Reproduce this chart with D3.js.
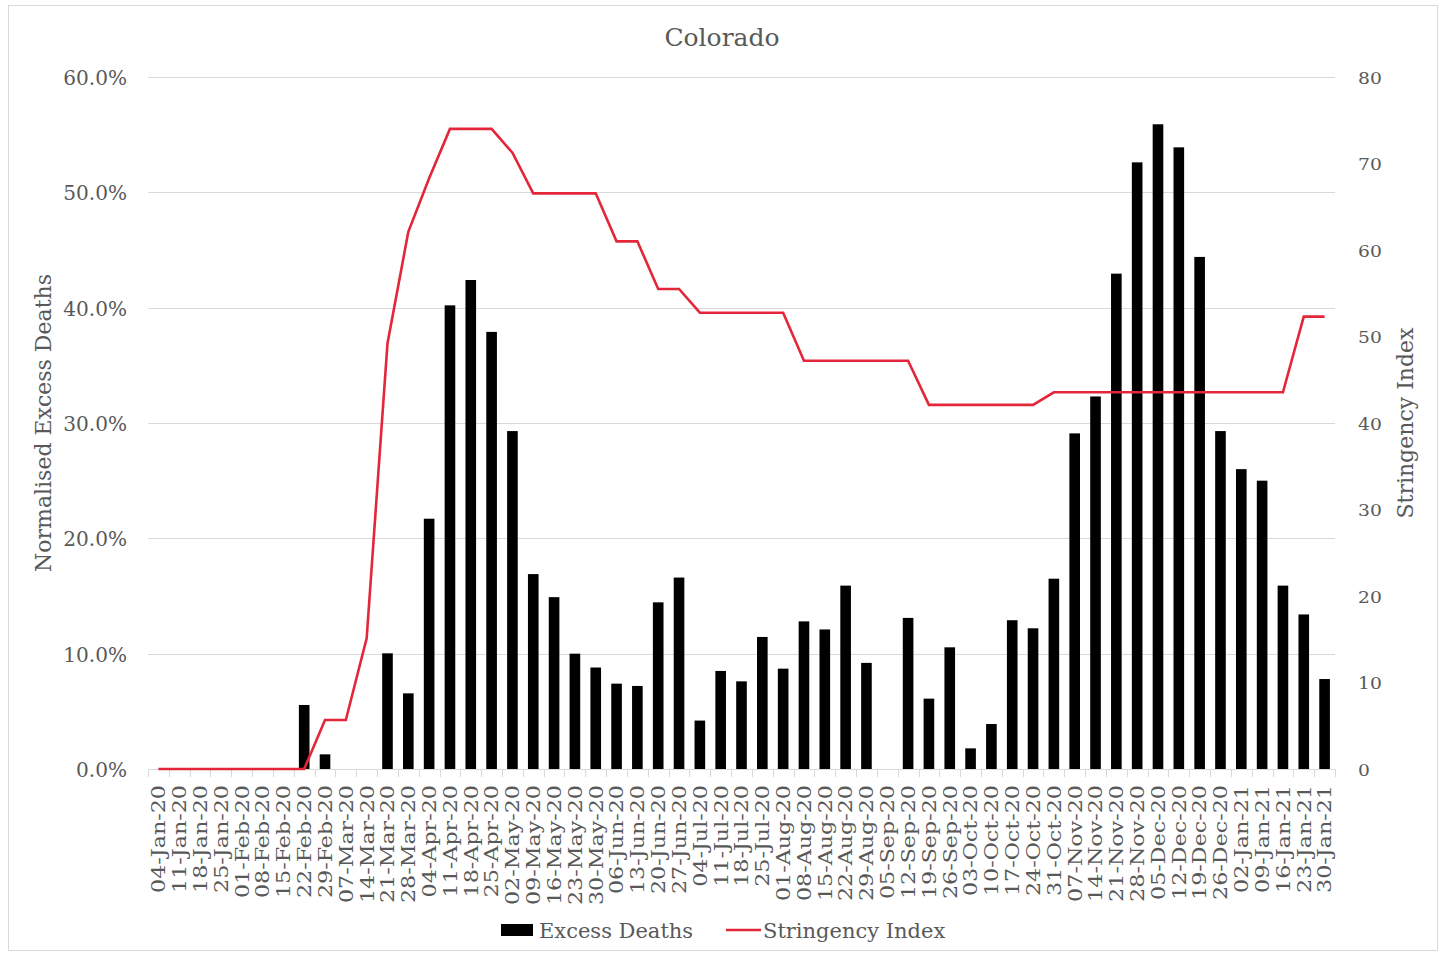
<!DOCTYPE html>
<html>
<head>
<meta charset="utf-8">
<script src="https://cdn.jsdelivr.net/npm/d3@7"></script>
<style>
  html, body { margin: 0; padding: 0; background: #ffffff; }
  svg { display: block; }
  text { font-family: "DejaVu Serif", serif; fill: #595959; }
</style>
</head>
<body>
<svg id="chart" width="1448" height="954"></svg>
<script>
const categories = ["04-Jan-20","11-Jan-20","18-Jan-20","25-Jan-20","01-Feb-20","08-Feb-20","15-Feb-20","22-Feb-20","29-Feb-20","07-Mar-20","14-Mar-20","21-Mar-20","28-Mar-20","04-Apr-20","11-Apr-20","18-Apr-20","25-Apr-20","02-May-20","09-May-20","16-May-20","23-May-20","30-May-20","06-Jun-20","13-Jun-20","20-Jun-20","27-Jun-20","04-Jul-20","11-Jul-20","18-Jul-20","25-Jul-20","01-Aug-20","08-Aug-20","15-Aug-20","22-Aug-20","29-Aug-20","05-Sep-20","12-Sep-20","19-Sep-20","26-Sep-20","03-Oct-20","10-Oct-20","17-Oct-20","24-Oct-20","31-Oct-20","07-Nov-20","14-Nov-20","21-Nov-20","28-Nov-20","05-Dec-20","12-Dec-20","19-Dec-20","26-Dec-20","02-Jan-21","09-Jan-21","16-Jan-21","23-Jan-21","30-Jan-21"];

// Normalised excess deaths (%)
const excessDeaths = [0,0,0,0,0,0,0,5.55,1.27,0,0,10.03,6.56,21.7,40.2,42.4,37.9,29.3,16.9,14.9,10.0,8.8,7.4,7.2,14.45,16.6,4.2,8.5,7.6,11.45,8.7,12.8,12.1,15.9,9.2,0,13.1,6.1,10.55,1.79,3.9,12.9,12.2,16.5,29.1,32.3,42.95,52.6,55.9,53.9,44.4,29.3,26.0,25.0,15.9,13.4,7.8];

// Stringency index
const stringency = [0,0,0,0,0,0,0,0,5.66,5.66,15.1,49.2,62.1,68.3,74.0,74.0,74.0,71.25,66.55,66.55,66.55,66.55,61.0,61.0,55.5,55.5,52.75,52.75,52.75,52.75,52.75,47.2,47.2,47.2,47.2,47.2,47.2,42.1,42.1,42.1,42.1,42.1,42.1,43.55,43.55,43.55,43.55,43.55,43.55,43.55,43.55,43.55,43.55,43.55,43.55,52.3,52.3];

const leftTicks = [0,10,20,30,40,50,60];
const rightTicks = [0,10,20,30,40,50,60,70,80];

const chartTitle = "Colorado";
const leftTitle = "Normalised Excess Deaths";
const rightTitle = "Stringency Index";
const seriesNames = ["Excess Deaths", "Stringency Index"];

const svg = d3.select("#chart");
const plotLeft = 148, plotRight = 1335, plotTop = 77, plotBottom = 769;
const red = "#e3263a";
const grid = "#d9d9d9";

// frame
svg.append("rect").attr("x", 8.5).attr("y", 5.5).attr("width", 1429).attr("height", 945)
  .attr("fill", "none").attr("stroke", "#d9d9d9").attr("stroke-width", 1);

const x = d3.scaleBand().domain(categories).range([plotLeft, plotRight]).paddingInner(0.49).paddingOuter(0.245);
const yL = d3.scaleLinear().domain([0, 60]).range([plotBottom, plotTop]);
const yR = d3.scaleLinear().domain([0, 80]).range([plotBottom, plotTop]);

// gridlines
svg.append("g").selectAll("line").data(leftTicks.slice(1)).join("line")
  .attr("x1", plotLeft).attr("x2", plotRight)
  .attr("y1", d => Math.round(yL(d)) + 0.5).attr("y2", d => Math.round(yL(d)) + 0.5)
  .attr("stroke", grid).attr("stroke-width", 1);

// bars
svg.append("g").selectAll("rect").data(categories).join("rect")
  .attr("x", (c) => x(c))
  .attr("width", x.bandwidth())
  .attr("y", (c, i) => yL(excessDeaths[i]))
  .attr("height", (c, i) => yL(0) - yL(excessDeaths[i]))
  .attr("fill", "#000000");

// x axis line & ticks at category boundaries
svg.append("line").attr("x1", plotLeft).attr("x2", plotRight).attr("y1", plotBottom + 0.5).attr("y2", plotBottom + 0.5)
  .attr("stroke", grid).attr("stroke-width", 1);
const halfGap = x.step() * x.paddingInner() / 2;
const boundaries = categories.map(c => x(c) - halfGap).concat([plotRight]);
svg.append("g").selectAll("line").data(boundaries).join("line")
  .attr("x1", d => Math.round(d) + 0.5).attr("x2", d => Math.round(d) + 0.5)
  .attr("y1", plotBottom).attr("y2", plotBottom + 8)
  .attr("stroke", grid).attr("stroke-width", 1);

// x axis labels via axis
const xAxis = svg.append("g").attr("transform", `translate(0,${plotBottom})`)
  .call(d3.axisBottom(x).tickSize(0).tickPadding(0));
xAxis.select(".domain").remove();
xAxis.selectAll("text")
  .attr("y", 0).attr("x", 0).attr("dy", "0.36em")
  .attr("text-anchor", "end")
  .attr("transform", "translate(0,16) rotate(-90) scale(1.17,1)")
  .style("font-family", "DejaVu Serif").style("font-size", "19px").attr("fill", "#595959");

// left axis
const lAxis = svg.append("g").attr("transform", `translate(${plotLeft},0)`)
  .call(d3.axisLeft(yL).tickValues(leftTicks).tickFormat(d => d.toFixed(1) + "%").tickSize(0));
lAxis.select(".domain").remove();
lAxis.selectAll("text")
  .attr("x", -21 / 0.98).attr("dy", "0.36em")
  .attr("transform", "scale(0.98,1)")
  .style("font-family", "DejaVu Serif").style("font-size", "20.5px").attr("fill", "#595959");

// right axis
const rAxis = svg.append("g").attr("transform", `translate(${plotRight},0)`)
  .call(d3.axisRight(yR).tickValues(rightTicks).tickFormat(d3.format("d")).tickSize(0));
rAxis.select(".domain").remove();
rAxis.selectAll("text")
  .attr("x", 23 / 1.1).attr("dy", "0.36em")
  .attr("transform", "scale(1.1,1)")
  .style("font-family", "DejaVu Serif").style("font-size", "17px").attr("fill", "#595959");

// stringency line
const line = d3.line()
  .x((d, i) => x(categories[i]) + x.bandwidth() / 2)
  .y(d => yR(d));
svg.append("path").datum(stringency)
  .attr("d", line).attr("fill", "none").attr("stroke", red)
  .attr("stroke-width", 2.6).attr("stroke-linejoin", "miter");

// title
svg.append("text").attr("x", 722).attr("y", 46).attr("text-anchor", "middle")
  .style("font-size", "25px").text(chartTitle);

// axis titles
svg.append("text").attr("transform", "translate(43,423) rotate(-90)")
  .attr("text-anchor", "middle").attr("dy", "0.35em").style("font-size", "22px").text(leftTitle);
svg.append("text").attr("transform", "translate(1405,423) rotate(-90)")
  .attr("text-anchor", "middle").attr("dy", "0.35em").style("font-size", "22px").text(rightTitle);

// legend
const lg = svg.append("g");
lg.append("rect").attr("x", 501).attr("y", 924).attr("width", 32).attr("height", 12).attr("fill", "#000");
lg.append("text").attr("x", 539).attr("y", 937.5).style("font-size", "21px").text(seriesNames[0]);
lg.append("line").attr("x1", 726).attr("x2", 761).attr("y1", 930).attr("y2", 930)
  .attr("stroke", red).attr("stroke-width", 2.6);
lg.append("text").attr("x", 763).attr("y", 937.5).style("font-size", "21px").text(seriesNames[1]);
</script>
</body>
</html>
